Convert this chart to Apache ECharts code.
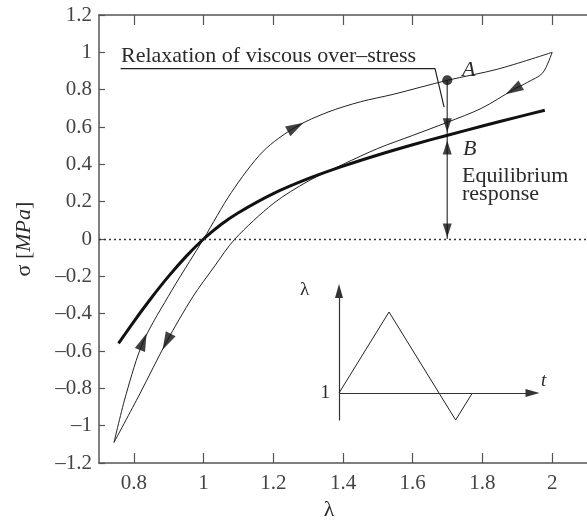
<!DOCTYPE html>
<html><head><meta charset="utf-8">
<script src="https://cdn.jsdelivr.net/npm/echarts@6/dist/echarts.min.js"></script>
<style>html,body{margin:0;padding:0;background:#fff}#c{width:587px;height:526px}</style>
</head><body><div id="c"></div>
<script>
// ---- data ----
const lambdaTicks = [0.8, 1, 1.2, 1.4, 1.6, 1.8, 2];
// thin loop: loading branch (from minimum stretch up to maximum)
const loadLambda = [0.743, 0.778, 0.827, 0.909, 0.96, 1.0, 1.08, 1.171, 1.264, 1.357, 1.45, 1.544, 1.699, 1.844, 2.0];
const loadSigma  = [-1.09, -0.83, -0.55, -0.275, -0.12, 0.0, 0.25, 0.47, 0.60, 0.68, 0.735, 0.775, 0.85, 0.91, 1.0];
// thin loop: unloading branch (from maximum down to minimum)
const unloadLambda = [2.0, 1.973, 1.93, 1.889, 1.797, 1.699, 1.6, 1.5, 1.4, 1.3, 1.2, 1.09, 1.03, 0.969, 0.894, 0.817, 0.743];
const unloadSigma  = [1.0, 0.89, 0.84, 0.80, 0.70, 0.625, 0.555, 0.485, 0.40, 0.31, 0.19, 0.0, -0.15, -0.31, -0.55, -0.83, -1.09];
// thick equilibrium curve
const eqLambda = [0.756, 0.8, 0.85, 0.9, 0.95, 1.0, 1.05, 1.1, 1.2, 1.3, 1.4, 1.5, 1.6, 1.7, 1.8, 1.9, 1.979];
const eqSigma  = [-0.559, -0.442, -0.316, -0.199, -0.093, 0.0, 0.078, 0.141, 0.243, 0.323, 0.39, 0.45, 0.505, 0.556, 0.605, 0.653, 0.69];
// annotation: point A and vertical relaxation line
const pointA = [1.699, 0.85];
const relaxLambda = [1.699, 1.699];
const relaxSigma = [0.85, 0.0];
// leader line of the "Relaxation" label
const leaderLambda = [0.762, 1.664, 1.69];
const leaderSigma = [0.913, 0.913, 0.706];
// arrowheads on curves: lambda, sigma, rotation (deg)
const curveArrowLambda = [1.264, 1.889, 0.894, 0.827];
const curveArrowSigma  = [0.60, 0.80, -0.55, -0.55];
const curveArrowRot    = [-61, 120, 153, -22];
// arrowheads on vertical line
const vArrowLambda = [1.699, 1.699, 1.699];
const vArrowSigma  = [0.61, 0.49, 0.045];
const vArrowRot    = [180, 0, 180];
// inset: stretch history
const insetT = [0, 1, 2.333, 2.667];
const insetLambda = [1, 2, 0.667, 1];

const zip = (a, b) => a.map((v, i) => [v, b[i]]);
const FF = "'Liberation Serif','Times New Roman',serif";
const TXT = '#2a2a2a';
const AX = '#555';

const chart = echarts.init(document.getElementById('c'), null, {renderer: 'canvas'});
const option = {
  animation: false,
  backgroundColor: '#fff',
  grid: [
    {left: 99, top: 15, width: 499, height: 452},
    {left: 339, top: 291, width: 200, height: 129}
  ],
  xAxis: [
    {
      type: 'value', gridIndex: 0, min: 0.7, max: 2.1, position: 'bottom',
      name: 'λ', nameLocation: 'middle', nameGap: 36,
      nameTextStyle: {fontFamily: FF, fontSize: 22, color: TXT, padding: [0, 28, 0, 0]},
      axisLine: {show: true, onZero: false, lineStyle: {color: AX, width: 1.5}},
      axisTick: {show: true, inside: true, length: 10, customValues: lambdaTicks, lineStyle: {color: AX, width: 1.2}},
      axisLabel: {show: true, customValues: lambdaTicks, margin: 10, fontFamily: FF, fontSize: 21, color: '#444',
        formatter: v => String(+v.toFixed(1))},
      splitLine: {show: false}
    },
    {
      type: 'value', gridIndex: 0, min: 0.7, max: 2.1, position: 'top',
      axisLine: {show: true, onZero: false, lineStyle: {color: AX, width: 1.5}},
      axisTick: {show: true, inside: true, length: 10, customValues: lambdaTicks, lineStyle: {color: AX, width: 1.2}},
      axisLabel: {show: false},
      splitLine: {show: false}
    },
    {
      type: 'value', gridIndex: 1, min: 0, max: 4, show: false
    }
  ],
  yAxis: [
    {
      type: 'value', gridIndex: 0, min: -1.2, max: 1.2, interval: 0.2,
      name: 'σ [{it|MPa}]', nameLocation: 'middle', nameGap: 64, nameRotate: 90,
      nameTextStyle: {fontFamily: FF, fontSize: 22, color: TXT,
        rich: {it: {fontStyle: 'italic', fontFamily: FF, fontSize: 22, color: TXT}}},
      axisLine: {show: true, onZero: false, lineStyle: {color: AX, width: 1.5}},
      axisTick: {show: true, inside: true, length: 6, lineStyle: {color: AX, width: 1.2}},
      axisLabel: {margin: 7, fontFamily: FF, fontSize: 21, color: '#444',
        formatter: v => String(+v.toFixed(1)).replace('-', '\u2013')},
      splitLine: {show: false}
    },
    {
      type: 'value', gridIndex: 1, min: 0.667, max: 2.259,
      axisLine: {show: true, onZero: false, symbol: ['none', 'triangle'], symbolSize: [8, 14],
        lineStyle: {color: '#333', width: 1.2}},
      axisTick: {show: false},
      axisLabel: {show: true, customValues: [1], margin: 9, fontFamily: FF, fontSize: 19, color: TXT},
      splitLine: {show: false}
    }
  ],
  series: [
    {
      name: 'loading', type: 'line', xAxisIndex: 0, yAxisIndex: 0,
      data: zip(loadLambda, loadSigma), showSymbol: false, smooth: 0.3,
      lineStyle: {color: '#222', width: 1}, z: 3
    },
    {
      name: 'unloading', type: 'line', xAxisIndex: 0, yAxisIndex: 0,
      data: zip(unloadLambda, unloadSigma), showSymbol: false, smooth: 0.3,
      lineStyle: {color: '#222', width: 1}, z: 3
    },
    {
      name: 'equilibrium', type: 'line', xAxisIndex: 0, yAxisIndex: 0,
      data: zip(eqLambda, eqSigma), showSymbol: false, smooth: 0.3,
      lineStyle: {color: '#111', width: 3}, z: 4,
      markLine: {
        silent: true, symbol: ['none', 'none'], label: {show: false},
        lineStyle: {color: '#333', width: 1.3, type: [2, 3]},
        data: [{yAxis: 0}]
      }
    },
    {
      name: 'relaxation', type: 'line', xAxisIndex: 0, yAxisIndex: 0,
      data: zip(relaxLambda, relaxSigma), showSymbol: false,
      lineStyle: {color: '#444', width: 1.3}, z: 3
    },
    {
      name: 'leader', type: 'line', xAxisIndex: 0, yAxisIndex: 0,
      data: zip(leaderLambda, leaderSigma), showSymbol: false,
      lineStyle: {color: '#222', width: 1.2}, z: 3
    },
    {
      name: 'A', type: 'scatter', xAxisIndex: 0, yAxisIndex: 0,
      data: [pointA], symbol: 'circle', symbolSize: 10,
      itemStyle: {color: '#111'}, z: 6
    },
    {
      name: 'curveArrows', type: 'scatter', xAxisIndex: 0, yAxisIndex: 0,
      data: curveArrowLambda.map((l, i) => ({value: [l, curveArrowSigma[i]], symbolRotate: curveArrowRot[i]})),
      symbol: 'triangle', symbolSize: [11, 18], itemStyle: {color: '#111'}, z: 6
    },
    {
      name: 'verticalArrows', type: 'scatter', xAxisIndex: 0, yAxisIndex: 0,
      data: vArrowLambda.map((l, i) => ({value: [l, vArrowSigma[i]], symbolRotate: vArrowRot[i]})),
      symbol: 'triangle', symbolSize: [9, 14], itemStyle: {color: '#111'}, z: 6
    },
    {
      name: 'inset', type: 'line', xAxisIndex: 2, yAxisIndex: 1,
      data: zip(insetT, insetLambda), showSymbol: false,
      lineStyle: {color: '#222', width: 1}, z: 3,
      markLine: {
        silent: true, symbol: ['none', 'triangle'], symbolSize: [8, 14], label: {show: false},
        lineStyle: {color: '#333', width: 1.2, type: 'solid'},
        data: [[{coord: [0, 1]}, {coord: [3.87, 1]}]]
      }
    }
  ],
  graphic: [
    {type: 'text', left: 121, top: 45, style: {text: 'Relaxation of viscous over\u2013stress', font: `22px ${FF}`, fill: TXT}},
    {type: 'text', left: 462, top: 59, style: {text: 'A', font: `italic 22px ${FF}`, fill: TXT}},
    {type: 'text', left: 463, top: 138, style: {text: 'B', font: `italic 22px ${FF}`, fill: TXT}},
    {type: 'text', left: 462, top: 165, style: {text: 'Equilibrium', font: `22px ${FF}`, fill: TXT}},
    {type: 'text', left: 462, top: 183, style: {text: 'response', font: `22px ${FF}`, fill: TXT}},
    {type: 'text', left: 300, top: 281, style: {text: 'λ', font: `19px ${FF}`, fill: TXT}},
    {type: 'text', left: 541, top: 371, style: {text: 't', font: `italic 19px ${FF}`, fill: TXT}}
  ]
};
chart.setOption(option);
</script>
</body></html>
